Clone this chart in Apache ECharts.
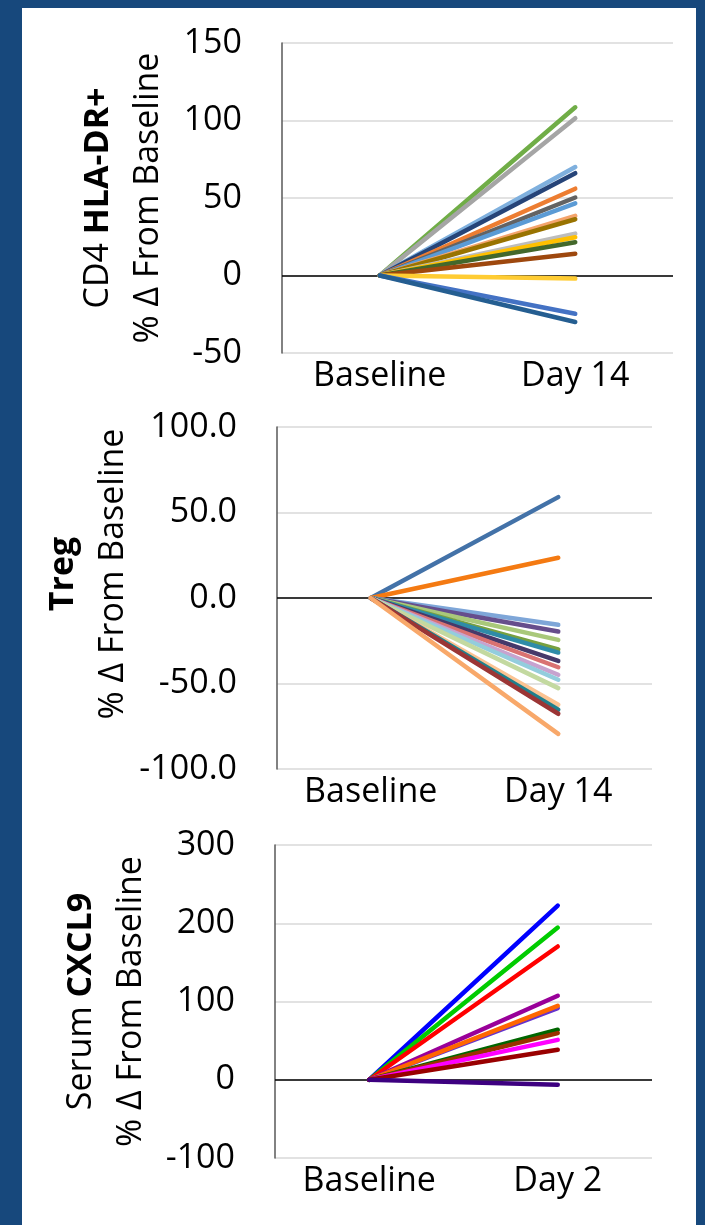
<!DOCTYPE html>
<html>
<head>
<meta charset="utf-8">
<script src="https://cdn.jsdelivr.net/npm/echarts@6/dist/echarts.min.js"></script>
<style>
  html, body { margin: 0; padding: 0; width: 705px; height: 1225px; background: #17487C; overflow: hidden; }
  #chart { position: absolute; left: 22px; top: 8px; width: 674px; height: 1217px; background: #ffffff; }
</style>
</head>
<body>
<div id="chart"></div>
<script>
// Categories for each panel
const cd4Categories = ['Baseline', 'Day 14'];
const tregCategories = ['Baseline', 'Day 14'];
const cxcl9Categories = ['Baseline', 'Day 2'];

// Percent change from baseline per subject (baseline is 0 for every subject)
const cd4Day14 = [108.5, 101.5, 70, 66, 56, 50.3, 46.6, 38.5, 36.3, 27, 24.7, 21.5, 14, -2, -24.7, -30];
const tregDay14 = [59, 23.5, -15.7, -19.6, -24.5, -30, -31.9, -36.8, -40.5, -44.9, -47.8, -52.7, -62.4, -65.3, -67.7, -79.5];
const cxcl9Day2 = [222.6, 194.5, 170.3, 107.3, 91.5, 94.5, 63.9, 59.6, 51, 38.3, -6.4];

// Y axis ticks
const cd4Ticks = { min: -50, max: 150, step: 50 };
const tregTicks = { min: -100, max: 100, step: 50 };
const cxcl9Ticks = { min: -100, max: 300, step: 100 };

// Line colours per subject
const cd4Colors = ['#70AD47', '#A5A5A5', '#7FB0DE', '#264478', '#ED7D31', '#636363', '#5B9BD5', '#F4A46C',
                   '#997300', '#BDBDBD', '#FFC000', '#43682B', '#9E480E', '#FFCC33', '#4472C4', '#255E91'];
const tregColors = ['#4372A8', '#F47A12', '#7EA6D8', '#664E8C', '#A9C87A', '#77A040', '#2E8CA8', '#46396A',
                    '#D97272', '#C7A3CF', '#93CDDD', '#C3D9A0', '#FBC392', '#1F7F8C', '#9B3535', '#F8A86A'];
const cxcl9Colors = ['#0000FF', '#00CC00', '#FF0000', '#990099', '#6633CC', '#FF6600', '#006600', '#993300',
                     '#FF00FF', '#990000', '#3D0080'];

const FONT = 'Open Sans';
const FS = 34;

const chart = echarts.init(document.getElementById('chart'), null, { renderer: 'canvas' });

const grids = [
  { left: 260, top: 35, width: 391, height: 310 },
  { left: 255, top: 419, width: 375, height: 342 },
  { left: 253, top: 837, width: 377, height: 313 }
];

function xAxisFor(idx, cats) {
  return {
    type: 'category', gridIndex: idx, data: cats, boundaryGap: true,
    axisLine: { show: false }, axisTick: { show: false }, splitLine: { show: false },
    axisLabel: { color: '#000', fontFamily: FONT, fontSize: FS, margin: 6 }
  };
}

function yAxisFor(idx, ticks, name, gap, decimals, namePad) {
  return {
    type: 'value', gridIndex: idx, min: ticks.min, max: ticks.max, interval: ticks.step,
    axisLine: { show: true, lineStyle: { color: '#595959', width: 1.5 } },
    axisTick: { show: false },
    splitLine: { show: true, lineStyle: { color: '#D9D9D9', width: 1.5 } },
    axisLabel: {
      color: '#000', fontFamily: FONT, fontSize: FS, margin: 40,
      formatter: v => decimals ? v.toFixed(decimals) : String(v)
    },
    name: name, nameLocation: 'middle', nameRotate: 90, nameGap: gap,
    nameMoveOverlap: false,
    nameTextStyle: {
      color: '#000', fontFamily: FONT, fontSize: FS, lineHeight: 50,
      padding: namePad,
      rich: {
        r: { color: '#000', fontFamily: FONT, fontSize: FS, lineHeight: 50 },
        b: { color: '#000', fontFamily: FONT, fontSize: FS, fontWeight: 'bold', lineHeight: 50 }
      }
    }
  };
}

function seriesFor(idx, values, colors) {
  return values.map((v, i) => {
    const s = {
      type: 'line', xAxisIndex: idx, yAxisIndex: idx,
      data: [0, v], symbol: 'none', silent: true, z: 3,
      lineStyle: { color: colors[i], width: 4.5, cap: 'round', join: 'round' }
    };
    if (i === 0) {
      // horizontal reference line at zero change
      s.markLine = {
        silent: true, symbol: 'none', z: 2,
        label: { show: false },
        lineStyle: { color: '#000', width: 1.5, type: 'solid' },
        data: [{ yAxis: 0 }]
      };
    }
    return s;
  });
}

chart.setOption({
  animation: false,
  backgroundColor: '#ffffff',
  grid: grids,
  xAxis: [
    xAxisFor(0, cd4Categories),
    xAxisFor(1, tregCategories),
    xAxisFor(2, cxcl9Categories)
  ],
  yAxis: [
    yAxisFor(0, cd4Ticks, '{r|CD4 }{b|HLA-DR+}\n{r|% Δ From Baseline}', 109, 0, 0),
    yAxisFor(1, tregTicks, '{b|Treg}\n{r|% Δ From Baseline}', 139, 1, [0, 0, 0, 48]),
    yAxisFor(2, cxcl9Ticks, '{r|Serum }{b|CXCL9}\n{r|% Δ From Baseline}', 119, 0, 0)
  ],
  series: [].concat(
    seriesFor(0, cd4Day14, cd4Colors),
    seriesFor(1, tregDay14, tregColors),
    seriesFor(2, cxcl9Day2, cxcl9Colors)
  )
});
</script>
</body>
</html>
